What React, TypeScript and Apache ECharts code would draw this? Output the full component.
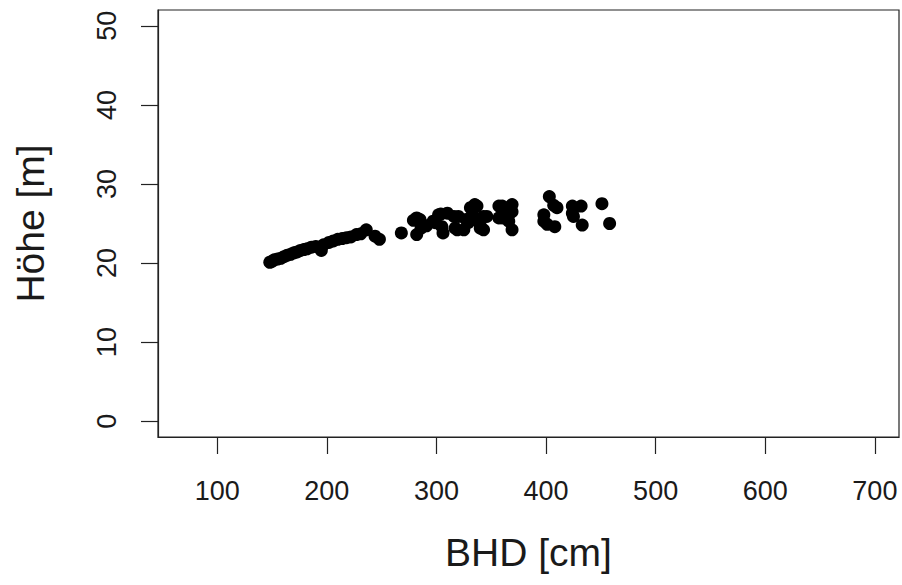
import React, { useEffect, useRef } from "react";
import * as echarts from "echarts";

const xTicks = [100, 200, 300, 400, 500, 600, 700];
const yTicks = [0, 10, 20, 30, 40, 50];

const bhd = [
  148, 150, 152, 155, 158, 161, 164, 167, 170, 173, 176, 179, 182, 186, 190, 195, 197, 202, 206, 210, 214, 218, 222, 227, 231, 236, 244, 248,
  268, 279, 282, 282, 285, 286, 291, 297, 299, 302, 304, 306, 305, 310, 316, 317, 319, 320, 325, 327, 329, 331, 333, 334, 335, 337, 338, 340,
  340, 343, 346, 343, 357, 357, 360, 360, 366, 366, 369, 369, 369, 398, 398, 401, 403, 407, 408, 410, 424, 424, 425, 432, 433, 451, 458,
];
const hoehe = [
  20.1, 20.2, 20.4, 20.5, 20.6, 20.8, 21.0, 21.1, 21.3, 21.4, 21.6, 21.7, 21.8, 22.0, 22.1, 21.6, 22.3, 22.6, 22.8, 23.0, 23.1, 23.2, 23.3, 23.6, 23.7, 24.2, 23.4, 23.0,
  23.8, 25.4, 25.7, 23.6, 25.5, 24.4, 24.7, 25.3, 25.1, 26.1, 26.2, 23.8, 24.6, 26.3, 25.9, 24.4, 24.2, 25.9, 24.2, 25.5, 25.1, 27.0, 26.1, 25.5, 27.4, 27.2, 25.5, 24.4,
  24.7, 25.9, 25.9, 24.2, 27.2, 25.7, 27.2, 25.7, 26.1, 25.3, 27.4, 26.5, 24.2, 26.1, 25.3, 24.9, 28.4, 27.3, 24.6, 27.0, 27.2, 26.3, 25.9, 27.2, 24.8, 27.5, 25.0,
];

const FONT = "'Liberation Sans', Arial, Helvetica, sans-serif";
const TXT = "#1a1a1a";
const LINE = "#222";

export default function App() {
  const ref = useRef<HTMLDivElement>(null);
  useEffect(() => {
    if (!ref.current) return;
    const chart = echarts.init(ref.current, undefined, { renderer: "svg" });
    const points = bhd.map((x, i) => [x, hoehe[i]]);
    chart.setOption({
      animation: false,
      backgroundColor: "#fff",
      grid: {
        left: 158,
        top: 10,
        width: 741,
        height: 427,
        show: true,
        borderColor: LINE,
        borderWidth: 1.2,
        backgroundColor: "transparent",
      },
      xAxis: {
        type: "value",
        min: 46,
        max: 722,
        name: "BHD [cm]",
        nameLocation: "middle",
        nameGap: 96,
        nameTextStyle: { fontFamily: FONT, fontSize: 39, color: TXT },
        axisLine: { show: true, onZero: false, lineStyle: { color: LINE, width: 1.2 } },
        axisTick: { show: true, inside: false, length: 17, customValues: xTicks, lineStyle: { color: LINE, width: 1.2 } },
        axisLabel: { show: true, margin: 40, customValues: xTicks, fontFamily: FONT, fontSize: 27, color: TXT },
        splitLine: { show: false },
      },
      yAxis: {
        type: "value",
        min: -2,
        max: 52,
        name: "Höhe [m]",
        nameLocation: "middle",
        nameGap: 108,
        nameRotate: 90,
        nameTextStyle: { fontFamily: FONT, fontSize: 39, color: TXT },
        axisLine: { show: true, onZero: false, lineStyle: { color: LINE, width: 1.2 } },
        axisTick: { show: true, inside: false, length: 17, customValues: yTicks, lineStyle: { color: LINE, width: 1.2 } },
        axisLabel: { show: true, margin: 38, rotate: 90, customValues: yTicks, fontFamily: FONT, fontSize: 27, color: TXT },
        splitLine: { show: false },
      },
      series: [
        {
          type: "scatter",
          data: points,
          symbol: "circle",
          symbolSize: 13,
          itemStyle: { color: "#000", opacity: 1 },
          silent: true,
        },
      ],
    });
    return () => chart.dispose();
  }, []);
  return (
    <div
      ref={ref}
      style={{ position: "absolute", left: 0, top: 0, width: 902, height: 585, background: "#fff" }}
    />
  );
}
